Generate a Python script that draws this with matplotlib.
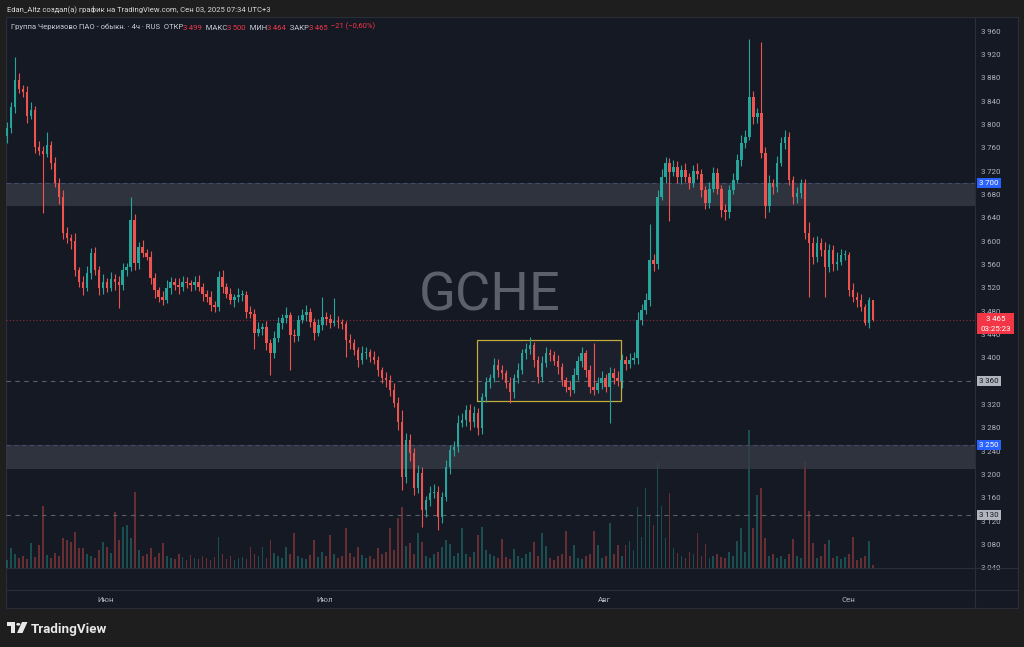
import numpy as np
import matplotlib
matplotlib.use("Agg")
import matplotlib.pyplot as plt
from matplotlib.patches import Rectangle, Polygon, Circle
from matplotlib.lines import Line2D
from matplotlib import transforms

plt.rcParams['font.family'] = ['Roboto', 'DejaVu Sans']

# GCHE 4h candles, Jun - Sep 2025
first_open = 3780
closes = [3794, 3830, 3876, 3860, 3855, 3815, 3825, 3761, 3755, 3750, 3765, 3734, 3700, 3676, 3614, 3605, 3600, 3550, 3530, 3520,
          3545, 3580, 3550, 3520, 3530, 3520, 3535, 3530, 3525, 3550, 3555, 3636, 3563, 3590, 3580, 3573, 3537, 3516, 3504, 3500,
          3520, 3530, 3525, 3521, 3530, 3528, 3525, 3530, 3521, 3510, 3504, 3490, 3487, 3538, 3521, 3510, 3499, 3504, 3508, 3508,
          3479, 3476, 3443, 3450, 3453, 3425, 3408, 3434, 3460, 3468, 3473, 3440, 3437, 3465, 3473, 3479, 3461, 3443, 3456, 3470,
          3466, 3460, 3463, 3461, 3458, 3431, 3425, 3413, 3396, 3408, 3410, 3401, 3396, 3379, 3365, 3362, 3345, 3323, 3290, 3196,
          3259, 3237, 3177, 3203, 3139, 3156, 3168, 3170, 3127, 3162, 3213, 3242, 3247, 3288, 3294, 3311, 3290, 3306, 3280, 3333,
          3358, 3365, 3388, 3379, 3374, 3357, 3342, 3365, 3379, 3408, 3415, 3422, 3396, 3367, 3391, 3408, 3405, 3395, 3384, 3362,
          3350, 3345, 3370, 3395, 3408, 3380, 3350, 3345, 3357, 3365, 3350, 3374, 3365, 3360, 3396, 3390, 3396, 3400, 3465, 3482,
          3499, 3568, 3560, 3676, 3710, 3734, 3719, 3727, 3710, 3722, 3710, 3699, 3720, 3715, 3688, 3665, 3690, 3717, 3690, 3653,
          3650, 3688, 3705, 3739, 3768, 3779, 3847, 3813, 3820, 3751, 3660, 3699, 3693, 3734, 3768, 3779, 3705, 3676, 3682, 3699,
          3614, 3597, 3573, 3597, 3585, 3555, 3585, 3560, 3565, 3576, 3576, 3516, 3504, 3500, 3487, 3460, 3499, 3465]
# wick length above / below the body
upper_wick = [10, 8, 39, 12, 8, 10, 14, 6, 10, 8, 22, 6, 10, 8, 12, 10, 8, 14, 6, 10,
              12, 8, 10, 8, 14, 6, 12, 8, 10, 12, 8, 40, 10, 8, 12, 6, 10, 8, 6, 10,
              14, 8, 6, 12, 10, 8, 6, 10, 12, 8, 6, 10, 8, 10, 12, 8, 10, 6, 12, 8,
              6, 10, 8, 12, 6, 10, 8, 12, 10, 8, 14, 6, 10, 8, 10, 12, 6, 8, 10, 35,
              8, 10, 39, 8, 6, 6, 10, 8, 6, 12, 8, 6, 10, 8, 6, 10, 8, 12, 10, 20,
              12, 10, 8, 14, 10, 8, 12, 14, 10, 8, 12, 8, 10, 14, 12, 8, 10, 12, 8, 6,
              10, 8, 12, 10, 8, 6, 10, 8, 12, 8, 10, 14, 6, 8, 12, 10, 8, 6, 10, 8,
              6, 10, 12, 8, 10, 6, 8, 75, 10, 12, 8, 10, 8, 12, 10, 8, 12, 10, 14, 10,
              12, 62, 10, 12, 14, 10, 8, 12, 10, 8, 12, 6, 10, 14, 8, 6, 12, 10, 8, 6,
              10, 8, 12, 10, 14, 12, 100, 10, 8, 121, 10, 14, 8, 12, 10, 12, 8, 6, 10, 8,
              8, 18, 10, 12, 8, 14, 10, 8, 16, 10, 8, 6, 12, 8, 10, 6, 6, 1]
lower_wick = [12, 8, 10, 6, 8, 12, 6, 10, 8, 102, 6, 10, 8, 12, 10, 8, 14, 10, 8, 12,
              6, 10, 8, 12, 10, 8, 6, 14, 40, 8, 10, 6, 12, 10, 8, 6, 10, 14, 8, 10,
              6, 10, 8, 12, 6, 8, 10, 8, 6, 12, 8, 10, 8, 6, 10, 8, 6, 12, 8, 10,
              10, 8, 28, 6, 10, 12, 37, 8, 6, 10, 8, 60, 10, 8, 6, 10, 8, 12, 6, 8,
              10, 8, 6, 10, 8, 29, 10, 8, 12, 6, 10, 8, 6, 10, 8, 12, 10, 8, 14, 22,
              10, 14, 12, 8, 29, 12, 10, 8, 22, 10, 8, 12, 10, 8, 6, 10, 14, 8, 12, 10,
              8, 10, 6, 12, 10, 8, 20, 10, 8, 6, 10, 8, 12, 10, 8, 6, 10, 8, 12, 10,
              8, 10, 6, 8, 10, 12, 10, 8, 6, 10, 8, 62, 10, 8, 12, 10, 8, 6, 10, 8,
              6, 10, 12, 8, 6, 10, 85, 8, 10, 12, 8, 10, 6, 8, 12, 10, 8, 6, 10, 12,
              14, 10, 8, 6, 10, 8, 6, 12, 10, 8, 20, 10, 12, 8, 6, 10, 8, 12, 10, 8,
              10, 93, 12, 8, 10, 51, 8, 12, 10, 6, 8, 10, 8, 12, 6, 4, 8, 1]
volumes = [8, 20, 14, 10, 12, 9, 25, 11, 23, 62, 13, 10, 15, 12, 30, 28, 26, 36, 20, 20,
           14, 12, 10, 18, 26, 21, 15, 56, 28, 41, 43, 30, 76, 18, 12, 14, 20, 11, 15, 25,
           12, 10, 9, 14, 11, 8, 13, 10, 9, 12, 10, 8, 11, 31, 14, 9, 12, 8, 10, 11,
           9, 21, 14, 12, 21, 10, 28, 15, 12, 10, 21, 14, 35, 12, 10, 9, 13, 28, 11, 16,
           12, 33, 14, 10, 12, 40, 15, 11, 21, 13, 10, 12, 9, 20, 14, 16, 40, 18, 50, 61,
           22, 25, 14, 35, 26, 12, 10, 14, 16, 21, 28, 24, 12, 15, 40, 14, 11, 16, 33, 41,
           18, 14, 12, 10, 29, 11, 9, 19, 12, 10, 14, 16, 26, 12, 35, 22, 10, 8, 12, 14,
           37, 12, 23, 10, 9, 12, 14, 37, 23, 10, 12, 45, 14, 23, 12, 23, 27, 18, 61, 31,
           80, 52, 43, 106, 62, 30, 75, 20, 15, 12, 10, 16, 14, 35, 12, 24, 10, 12, 14, 11,
           10, 16, 12, 27, 40, 16, 138, 40, 73, 80, 30, 12, 14, 10, 12, 9, 14, 29, 12, 10,
           106, 57, 25, 10, 12, 24, 28, 10, 12, 9, 11, 14, 31, 8, 10, 12, 27, 3]

month_labels = ["Июн", "Июл", "Авг", "Сен"]
month_pos = [24.6, 79.7, 149.8, 210.7]
price_ticks = list(range(3040, 3961, 40))

zones = [(3660, 3700), (3210, 3250)]
dash_levels = [3360, 3130]
last_price = 3465
range_box = [117.8, 153.8, 3326, 3430]  # x0, x1, low, high

W, H = 1024, 647
BG = "#151924"
OUTER = "#1e1e1e"
BORDER = "#2a2e39"
GREEN = "#26a69a"
RED = "#ef5350"
TXT = "#b2b5be"
FS = 5.7

def fx(px):
    return px / W

def fy(py):
    return 1 - py / H

fig = plt.figure(figsize=(W / 100, H / 100), dpi=100, facecolor=OUTER)
fig.add_artist(Rectangle((fx(6), fy(608)), (1018 - 6) / W, (608 - 17) / H, transform=fig.transFigure,
                         facecolor=BG, edgecolor=BORDER, lw=0.8, zorder=-5))

o = np.r_[first_open, closes[:-1]].astype(float)
c = np.array(closes, dtype=float)
hi = np.maximum(o, c) + np.array(upper_wick)
lo = np.minimum(o, c) - np.array(lower_wick)
x = np.arange(len(c))
up = c >= o
col = np.where(up, GREEN, RED)

xmin, xmax = -0.25, 242.55
ymin, ymax = 3002.3, 3984.0

# volume pane (overlay at the bottom)
vax = fig.add_axes([fx(6), fy(568), 969 / W, 150 / H], zorder=0)
vcol = [(0.149, 0.651, 0.604, 0.38) if u else (0.937, 0.325, 0.314, 0.38) for u in up]
vax.bar(x, volumes, width=0.45, color=vcol, lw=0)
vax.set_xlim(xmin, xmax)
vax.set_ylim(0, 150)
vax.set_axis_off()

ax = fig.add_axes([fx(6), fy(590), 969 / W, 573 / H], zorder=1)
ax.set_facecolor("none")
ax.set_xlim(xmin, xmax)
ax.set_ylim(ymin, ymax)

for a, b in zones:
    ax.axhspan(a, b, color="#363a45", alpha=0.8, lw=0, zorder=0.5)
    ax.axhline(b, color="#3f4c6e", ls=(0, (4, 3)), lw=0.8, zorder=0.6)
for lv in dash_levels:
    ax.axhline(lv, color="#5d606b", ls=(0, (4, 4)), lw=0.8, zorder=0.6)
ax.axhline(last_price, color="#f23645", alpha=0.55, ls=(0, (1, 2)), lw=0.8, zorder=0.6)

ax.add_patch(Rectangle((range_box[0], range_box[2]), range_box[1] - range_box[0], range_box[3] - range_box[2],
                       facecolor=(0.6, 0.62, 0.7, 0.06), edgecolor="#c2ad3c", lw=0.9, zorder=0.7))

ax.text(0.4995, 0.487, "GCHE", transform=ax.transAxes, ha="center", va="baseline",
        fontsize=39, color="#5d606b", zorder=0.4)

ax.vlines(x, lo, hi, colors=col, lw=0.8, zorder=2)
ax.bar(x, np.maximum(np.abs(c - o), 1.5), bottom=np.minimum(o, c), width=0.62, color=col, lw=0, zorder=2.1)

for s in ax.spines.values():
    s.set_visible(False)
ax.yaxis.tick_right()
ax.set_yticks(price_ticks)
ax.set_yticklabels([f"{v // 1000}\u2009{v % 1000:03d}" for v in price_ticks])
ax.tick_params(axis="y", length=0, pad=4.3, labelsize=FS, labelcolor=TXT)
ax.set_xticks(month_pos)
ax.set_xticklabels(month_labels)
ax.tick_params(axis="x", length=0, pad=5.2, labelsize=FS, labelcolor=TXT)

# panel separators
for xs, ys in [([975, 975], [17, 608]), ([6, 1018], [590, 590]), ([6, 1018], [568, 568])]:
    fig.add_artist(Line2D([fx(v) for v in xs], [fy(v) for v in ys], color=BORDER, lw=0.8, zorder=3))

# price tags on the scale
bt = transforms.blended_transform_factory(fig.transFigure, ax.transData)
upp = (ymax - ymin) / 573

def tag(price, label, fc, tc, w=24, h=10):
    ax.add_patch(Rectangle((fx(977), price - h / 2 * upp), w / W, h * upp, transform=bt,
                           facecolor=fc, edgecolor="none", clip_on=False, zorder=5))
    ax.text(fx(977 + w / 2), price, label, transform=bt, ha="center", va="center",
            fontsize=FS, color=tc, clip_on=False, zorder=6)

tag(3700, "3\u2009700", "#2962ff", "white")
tag(3360, "3\u2009360", "#b2b5be", "#131722")
tag(3250, "3\u2009250", "#2962ff", "white")
tag(3130, "3\u2009130", "#b2b5be", "#131722")
ax.add_patch(Rectangle((fx(977), last_price - 14.5 * upp), 37 / W, 21 * upp, transform=bt,
                       facecolor="#f23645", edgecolor="none", clip_on=False, zorder=5))
ax.text(fx(995.5), last_price + 0.5 * upp, "3\u2009465", transform=bt, ha="center", va="center",
        fontsize=FS, color="white", clip_on=False, zorder=6)
ax.text(fx(995.5), last_price - 9 * upp, "03:25:23", transform=bt, ha="center", va="center",
        fontsize=FS, color="white", clip_on=False, zorder=6)

# header
fig.text(fx(7), fy(11), "Edan_Altz создал(а) график на TradingView.com, Сен 03, 2025 07:34 UTC+3",
         fontsize=5.5, color="#d9d9d9", va="baseline")
pieces = [("Группа Черкизово ПАО - обыкн. · 4ч · RUS  ОТКР", "#c9ccd4"), ("3\u2009499", "#f23645"),
          ("  МАКС", "#c9ccd4"), ("3\u2009500", "#f23645"), ("  МИН", "#c9ccd4"), ("3\u2009464", "#f23645"),
          ("  ЗАКР", "#c9ccd4"), ("3\u2009465", "#f23645"), ("  −21 (−0,60%)", "#f23645")]
prev = fig.text(fx(11), fy(29.5), pieces[0][0], fontsize=5.5, color=pieces[0][1], va="baseline")
for t, cc in pieces[1:]:
    prev = ax.annotate(t, xy=(1, 0), xycoords=prev, xytext=(0, 0), textcoords="offset points",
                       fontsize=5.5, color=cc, ha="left", va="bottom", annotation_clip=False)

# footer logo
fig.add_artist(Polygon([(fx(7), fy(622)), (fx(15), fy(622)), (fx(15), fy(633)), (fx(11), fy(633)),
                        (fx(11), fy(626)), (fx(7), fy(626))], closed=True, transform=fig.transFigure,
                       facecolor="#e8e8e8", edgecolor="none"))
fig.add_artist(Circle((fx(18.3), fy(624.3)), 2.1 / W, transform=fig.transFigure, facecolor="#e8e8e8",
                      edgecolor="none"))
fig.add_artist(Polygon([(fx(22), fy(622)), (fx(27.5), fy(622)), (fx(22.5), fy(633)), (fx(17), fy(633))],
                       closed=True, transform=fig.transFigure, facecolor="#e8e8e8", edgecolor="none"))
fig.text(fx(31), fy(632.5), "TradingView", fontsize=9.6, fontweight="bold", color="#e8e8e8", va="baseline")

fig.savefig("out.png", dpi=100, facecolor=OUTER)
